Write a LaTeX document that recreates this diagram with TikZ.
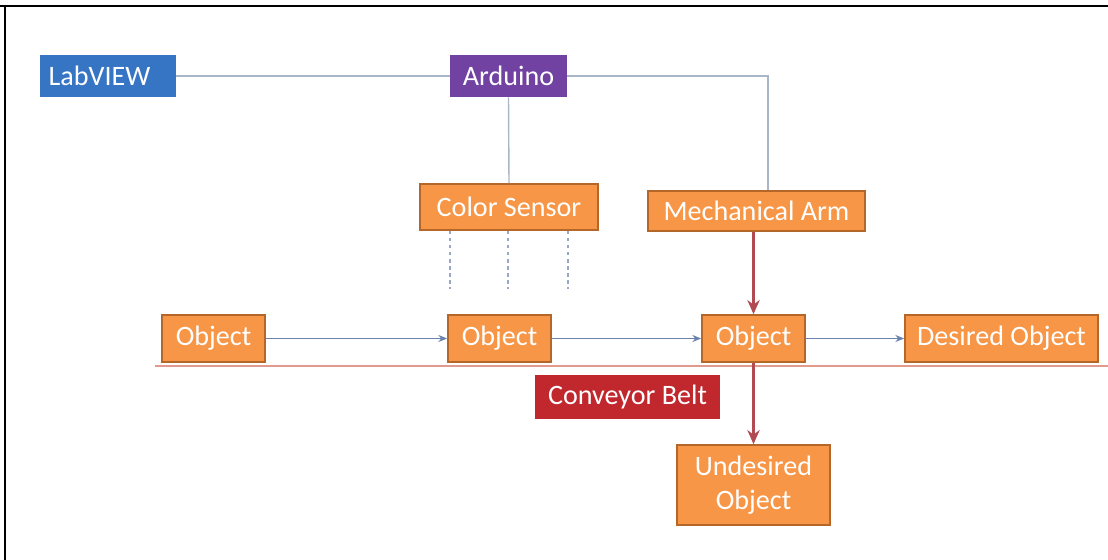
\documentclass[tikz,border=0pt]{standalone}
\usepackage{fontspec}
\setmainfont{Carlito}
\usepackage{tikz}
\usetikzlibrary{positioning, arrows.meta}

\definecolor{boxorange}{HTML}{F79646}
\definecolor{boxedge}{HTML}{B5672A}
\definecolor{labblue}{HTML}{3674C4}
\definecolor{ardpurple}{HTML}{7142A2}
\definecolor{beltred}{HTML}{C1282E}
\definecolor{wire}{HTML}{A9B6C8}
\definecolor{flow}{HTML}{6A82AE}
\definecolor{armred}{HTML}{B24A52}
\definecolor{beltline}{HTML}{E39A8E}

\begin{document}
\begin{tikzpicture}[
    block/.style={
        rectangle, draw=boxedge, line width=1pt, fill=boxorange,
        text=white, inner sep=0pt, align=center,
        font=\fontsize{16}{19}\selectfont},
    board/.style={
        rectangle, draw=none, text=white, inner sep=0pt,
        minimum height=0.84cm, font=\fontsize{16}{19}\selectfont},
    link/.style={draw=wire, line width=0.8pt},
    sense/.style={draw=flow!70, line width=0.6pt, dash pattern=on 2pt off 2pt},
    move/.style={draw=flow, line width=0.7pt, -{Stealth[length=5pt,width=4pt]}},
    pick/.style={draw=armred, line width=1.5pt, -{Stealth[length=8pt,width=7pt]}}
]

%% ── Frame ───────────────────────────────────────────────────────
\useasboundingbox (0,0) rectangle (22.16,-11.2);
\draw[line width=1.2pt] (0,-0.12) -- (22.16,-0.12);
\draw[line width=1.2pt] (0.10,-0.12) -- (0.10,-11.2);

%% ── Controllers ─────────────────────────────────────────────────
\node[board, fill=labblue, minimum width=2.72cm] (lab) at (2.16,-1.52)
    {\hspace*{-0.34cm}LabVIEW};
\node[board, fill=ardpurple, minimum width=2.34cm] (ardu) at (10.17,-1.52)
    {Arduino};

%% ── Sensor and arm ──────────────────────────────────────────────
\node[block, minimum width=3.56cm, minimum height=0.92cm] (sensor)
    at (10.18,-4.14) {Color Sensor};
\node[block, minimum width=4.34cm, minimum height=0.80cm] (arm)
    at (15.13,-4.22) {Mechanical Arm};

%% ── Objects on the belt ─────────────────────────────────────────
\node[block, minimum width=2.06cm, minimum height=0.94cm] (obj1)
    at (4.27,-6.77) {Object};
\node[block, minimum width=2.06cm, minimum height=0.94cm] (obj2)
    at (9.99,-6.77) {Object};
\node[block, minimum width=2.06cm, minimum height=0.94cm] (obj3)
    at (15.07,-6.77) {Object};
\node[block, minimum width=3.86cm, minimum height=0.94cm] (good)
    at (20.03,-6.77) {Desired Object};
\node[block, minimum width=3.06cm, minimum height=1.60cm] (bad)
    at (15.07,-9.70) {Undesired\\Object};

%% ── Conveyor belt ───────────────────────────────────────────────
\coordinate (beltL) at (3.10,-7.32);
\coordinate (beltR) at (22.16,-7.32);
\draw[beltline, line width=0.8pt] (beltL) -- (beltR);
\node[board, fill=beltred, minimum width=3.70cm, minimum height=0.88cm]
    (belt) at (12.55,-7.94) {Conveyor Belt};

%% ── Wiring ──────────────────────────────────────────────────────
\draw[link] (lab.east) -- (ardu.west);
\draw[link] (ardu.east) -| ([xshift=0.23cm]arm.north);
\draw[link] (ardu.south) -- (sensor.north);

%% ── Sensor beams ────────────────────────────────────────────────
\foreach \dx in {-1.18, -0.02, 1.18}
    \draw[sense] ([xshift=\dx cm]sensor.south) -- ++(0,-1.16);

%% ── Belt motion ─────────────────────────────────────────────────
\draw[move] (obj1) -- (obj2);
\draw[move] (obj2) -- (obj3);
\draw[move] (obj3) -- (good);

%% ── Sorting by the arm ──────────────────────────────────────────
\draw[pick] (arm.south -| obj3.north) -- (obj3.north);
\draw[pick] (obj3.south) -- (bad.north);

\end{tikzpicture}
\end{document}
